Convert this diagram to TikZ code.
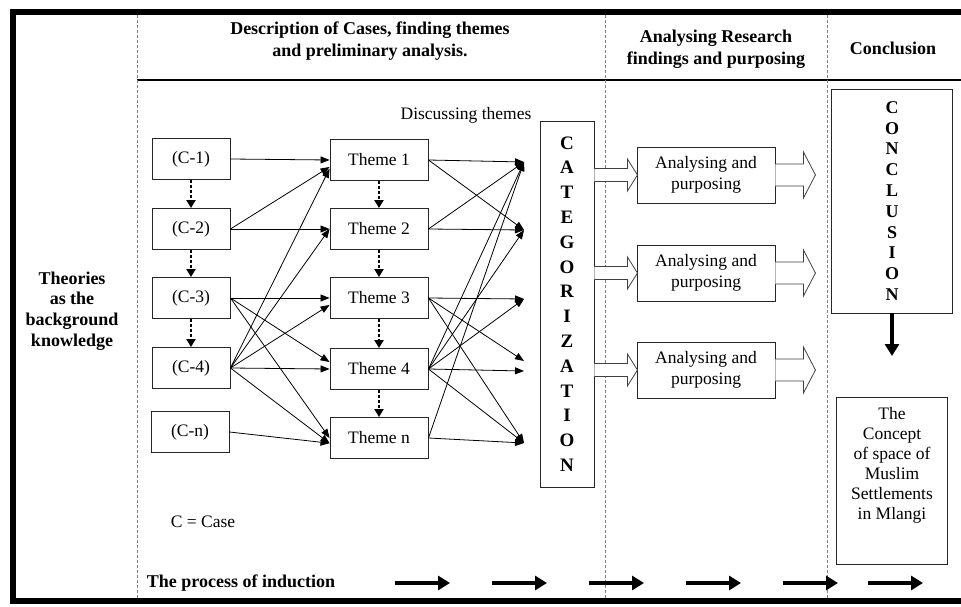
\documentclass[tikz,border=0pt]{standalone}
\usepackage{fontspec}
\setmainfont{Liberation Serif}
\usetikzlibrary{arrows.meta}
\newcommand{\openarrow}[5]{
  \draw[fill=white, draw=black!75, line width=0.8pt] (#1) ++(0,-#3) -- ++(#2,0) -- ++(0,#3-#4)
    -- ++(#5,#4) -- ++(-#5,#4) -- ++(0,#3-#4) -- ++(-#2,0);
}
\tikzset{
  casebox/.style={draw=black!85, line width=0.9pt, minimum width=78pt, minimum height=41pt,
    inner sep=0pt, font=\fontsize{17.5}{20}\selectfont},
  themebox/.style={casebox, minimum width=98pt},
  anbox/.style={casebox, minimum width=138pt, minimum height=56pt, align=center,
    font=\fontsize{17.5}{21}\selectfont},
  head/.style={font=\bfseries\fontsize{18}{21.5}\selectfont, align=center},
  plain/.style={font=\fontsize{17.5}{20}\selectfont, align=center},
  arr/.style={line width=0.8pt, -{Triangle[length=9pt,width=7pt]}},
  dotarr/.style={line width=2.2pt, dash pattern=on 3pt off 2pt, -{Triangle[length=8pt,width=9pt]}},
  induct/.style={line width=4.5pt, -{Triangle[length=12pt,width=14pt]}},
  divider/.style={gray, densely dashed, line width=0.7pt},
}
\begin{document}
\begin{tikzpicture}[x=1pt,y=-1pt]
  \useasboundingbox (0,0) rectangle (961,607);
  \draw[line width=6pt] (964,12) -- (13,12) -- (13,601) -- (964,601);
  \draw[line width=2pt] (137,80) -- (961,80);
  \foreach \x in {137,605,827} {
    \draw[divider] (\x,15) -- (\x,598);
  }

  \node[head] (hdesc) at (370,41) {Description of Cases, finding themes\\and preliminary analysis.};
  \node[head] (hanal) at (716,49) {Analysing Research\\findings and purposing};
  \node[head] (hconc) at (893,48) {Conclusion};
  \node[head, font=\bfseries\fontsize{18}{20.6}\selectfont] (theory) at (72,311) {Theories\\as the\\background\\knowledge};

  \foreach \n/\y in {1/159,2/229,3/298,4/368} {
    \node[casebox] (c\n) at (191,\y) {(C-\n)};
  }
  \node[casebox] (cn) at (190,432) {(C-n)};
  \foreach \n/\y in {1/160,2/229,3/298,4/369,n/438} {
    \node[themebox] (t\n) at (379,\y) {Theme \n};
  }
  \foreach \a/\b in {1/2,2/3,3/4} {
    \draw[dotarr] (c\a) -- (c\b);
  }
  \foreach \a/\b in {1/2,2/3,3/4,4/n} {
    \draw[dotarr] (t\a) -- (t\b);
  }

  \foreach \a/\b in {1/1.west,2/1.188,2/2.west,3/3.west,3/4.172,3/n.west,4/1.190,4/2.west,4/3.188,4/4.west,4/n.186,n/n.186} {
    \draw[arr] (c\a.east) -- (t\b);
  }

  \node[plain] (discuss) at (466,115) {Discussing themes};
  \node[draw=black!85, line width=0.9pt, minimum width=54pt, minimum height=366pt, inner sep=0pt,
    align=center, font=\bfseries\fontsize{19}{24.8}\selectfont] (cat) at (567,304)
    {C\\A\\T\\E\\G\\O\\R\\I\\Z\\A\\T\\I\\O\\N};

  \coordinate (in1) at (524,162);
  \coordinate (in2) at (524,230);
  \coordinate (in3) at (524,299);
  \coordinate (in4a) at (524,361);
  \coordinate (in4b) at (524,371);
  \coordinate (inn) at (524,443);
  \foreach \a/\b in {1/1,1/2,2/1,2/2,3/3,3/4a,3/n,4/1,4/2,4/3,4/4b,4/n,n/1,n/n} {
    \draw[arr] (t\a.east) -- (in\b);
  }

  \foreach \n/\y in {1/175,2/273,3/370} {
    \node[anbox] (a\n) at (706,\y) {Analysing and\\purposing};
    \openarrow{cat.east |- a\n}{33}{6.5}{16}{10}
    \openarrow{a\n.east}{28}{11}{23}{12}
  }

  \node[draw=black!85, line width=0.9pt, minimum width=121pt, minimum height=224pt, inner sep=0pt,
    align=center, font=\bfseries\fontsize{18}{20.8}\selectfont] (concl) at (892,201)
    {C\\O\\N\\C\\L\\U\\S\\I\\O\\N};
  \coordinate (down) at (892,356);
  \draw[line width=3.5pt, -{Triangle[length=12pt,width=14pt]}] (concl.south) -- (down);

  \node[draw=black!85, line width=0.9pt, minimum width=111pt, minimum height=167pt] (concept) at (892,481) {};
  \node[plain, font=\fontsize{17.5}{20}\selectfont] (concepttxt) at (892,465)
    {The\\Concept\\of space of\\Muslim\\Settlements\\in Mlangi};

  \node[plain] (legend) at (203,522) {C = Case};
  \node[head] (induction) at (241,583) {The process of induction};
  \foreach \x in {395,492,589,686,783,868} {
    \draw[induct] (\x,583) -- ++(55,0);
  }
\end{tikzpicture}
\end{document}
